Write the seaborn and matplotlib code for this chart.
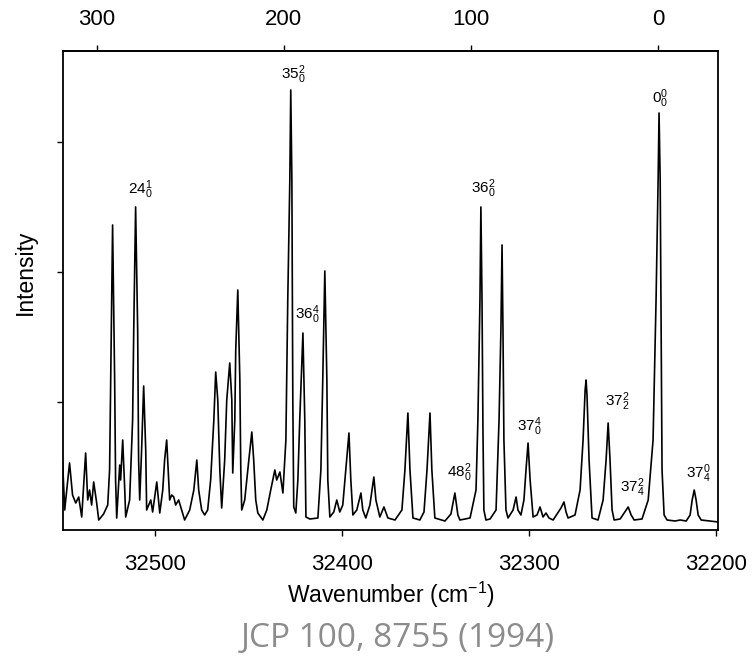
import matplotlib
matplotlib.use('Agg')
import matplotlib.pyplot as plt
import pandas as pd
import seaborn as sns

# band origin (0-0 band) used for the relative top scale
ORIGIN = 32231

# spectrum trace: wavenumber (cm-1) vs intensity (arb.)
WAVENUMBER = [
    32549.2, 32548.1, 32545.5, 32543.9, 32542.2, 32540.6, 32539.0, 32536.9, 32535.8, 32534.8,
    32533.7, 32532.6, 32531.0, 32529.9, 32527.3, 32525.1, 32524.1, 32523.5, 32522.5, 32521.4,
    32520.9, 32520.3, 32518.7, 32518.2, 32517.1, 32516.0, 32515.5, 32513.4, 32511.8, 32511.2,
    32510.2, 32509.1, 32508.6, 32508.0, 32507.0, 32505.9, 32504.8, 32504.3, 32502.1, 32501.1,
    32498.9, 32497.3, 32495.7, 32494.7, 32493.6, 32492.5, 32492.0, 32490.9, 32489.8, 32488.8,
    32487.2, 32485.6, 32484.0, 32481.3, 32479.1, 32477.5, 32476.5, 32474.9, 32473.3, 32471.7,
    32470.1, 32468.4, 32467.4, 32466.3, 32465.2, 32464.2, 32462.6, 32461.5, 32459.9, 32458.8,
    32458.3, 32457.2, 32456.7, 32455.6, 32454.5, 32454.0, 32453.5, 32451.9, 32449.7, 32448.1,
    32447.1, 32446.0, 32444.9, 32442.2, 32440.1, 32438.0, 32435.8, 32434.8, 32433.1, 32431.5,
    32429.9, 32428.9, 32427.8, 32427.3, 32426.7, 32426.2, 32425.7, 32424.6, 32423.5, 32422.5,
    32420.8, 32419.8, 32419.2, 32417.1, 32412.8, 32411.2, 32410.2, 32409.1, 32408.0, 32407.5,
    32406.4, 32404.3, 32402.7, 32401.1, 32399.5, 32397.9, 32396.2, 32395.2, 32394.1, 32392.0,
    32389.8, 32388.8, 32387.2, 32385.0, 32383.9, 32382.9, 32381.8, 32379.7, 32377.5, 32375.4,
    32371.6, 32367.9, 32366.3, 32364.7, 32363.6, 32362.0, 32358.3, 32356.1, 32354.5, 32352.9,
    32351.9, 32350.3, 32344.9, 32341.7, 32339.6, 32338.0, 32336.9, 32331.5, 32328.3, 32327.3,
    32326.2, 32325.7, 32325.1, 32324.6, 32324.1, 32323.0, 32320.8, 32317.6, 32316.0, 32315.0,
    32314.4, 32313.9, 32313.4, 32312.3, 32311.2, 32308.5, 32306.9, 32305.9, 32304.3, 32302.7,
    32301.6, 32300.5, 32299.4, 32297.8, 32295.7, 32294.1, 32292.5, 32290.9, 32289.3, 32287.1,
    32285.0, 32282.9, 32281.3, 32280.2, 32279.1, 32275.4, 32272.7, 32271.1, 32270.0, 32269.5,
    32269.0, 32267.9, 32266.3, 32263.1, 32260.4, 32258.8, 32257.7, 32256.7, 32255.6, 32254.5,
    32251.3, 32248.1, 32247.0, 32245.4, 32243.8, 32239.6, 32236.3, 32233.7, 32232.1, 32231.0,
    32230.5, 32229.9, 32229.4, 32228.9, 32227.8, 32226.2, 32221.9, 32219.2, 32216.0, 32213.9,
    32212.8, 32211.7, 32210.7, 32209.6, 32208.0, 32203.2, 32198.9,
]
INTENSITY = [
    68, 20, 67, 35, 27, 33, 13, 77, 30, 40,
    25, 48, 27, 10, 16, 25, 60, 150, 305, 150,
    50, 12, 65, 50, 90, 40, 13, 30, 110, 200,
    323, 200, 70, 30, 80, 144, 80, 20, 30, 18,
    48, 17, 40, 70, 90, 50, 30, 35, 33, 25,
    30, 20, 10, 20, 40, 70, 40, 20, 15, 20,
    50, 110, 158, 130, 60, 22, 70, 130, 167, 130,
    57, 110, 180, 240, 150, 60, 20, 30, 70, 98,
    70, 30, 17, 10, 20, 40, 60, 50, 58, 37,
    90, 230, 350, 440, 350, 130, 23, 17, 50, 110,
    197, 110, 13, 11, 12, 60, 150, 259, 150, 50,
    13, 18, 30, 18, 25, 60, 97, 50, 15, 20,
    37, 20, 12, 25, 40, 53, 30, 13, 23, 12,
    10, 20, 60, 117, 60, 12, 10, 18, 60, 117,
    60, 12, 9, 16, 37, 15, 10, 12, 40, 110,
    230, 323, 230, 100, 20, 10, 11, 20, 110, 200,
    285, 200, 90, 20, 12, 20, 33, 20, 15, 30,
    60, 87, 50, 13, 15, 23, 13, 17, 12, 10,
    16, 22, 28, 18, 12, 15, 40, 90, 140, 150,
    135, 70, 12, 10, 30, 70, 107, 70, 20, 10,
    11, 20, 23, 15, 10, 11, 30, 90, 230, 350,
    417, 350, 200, 60, 15, 10, 9, 10, 9, 15,
    30, 40, 30, 15, 10, 9, 8,
]

# band assignments
LABELS = [r'$24^{1}_{0}$', r'$35^{2}_{0}$', r'$36^{4}_{0}$', r'$36^{2}_{0}$', r'$48^{2}_{0}$',
          r'$37^{4}_{0}$', r'$37^{2}_{2}$', r'$37^{2}_{4}$', r'$37^{0}_{4}$', r'$0^{0}_{0}$']
LABEL_X = [32507.5, 32426.2, 32418.2, 32324.6, 32337.4, 32300.0, 32252.9, 32244.9, 32209.6, 32229.9]
LABEL_Y = [340, 455, 215, 341, 57, 103, 128, 42, 56, 431]

sns.set_style('ticks')
plt.rcParams['font.family'] = ['Liberation Sans', 'DejaVu Sans']
plt.rcParams['mathtext.fontset'] = 'custom'
plt.rcParams['mathtext.rm'] = 'Liberation Sans'
plt.rcParams['mathtext.it'] = 'Liberation Sans:italic'
plt.rcParams['mathtext.bf'] = 'Liberation Sans:bold'
plt.rcParams['text.color'] = 'black'
plt.rcParams['axes.labelcolor'] = 'black'
plt.rcParams['xtick.color'] = 'black'
plt.rcParams['ytick.color'] = 'black'

df = pd.DataFrame({'wavenumber': WAVENUMBER, 'intensity': INTENSITY})

fig = plt.figure(figsize=(7.54, 6.59), dpi=100)
ax = fig.add_axes([63 / 754, 129 / 659, 655 / 754, 479 / 659])
sns.lineplot(data=df, x='wavenumber', y='intensity', ax=ax, color='black',
             lw=1.2, sort=False, estimator=None)

ax.set_xlim(32549, 32199)
ax.set_ylim(0, 479)
ax.set_xticks([32500, 32400, 32300, 32200])
ax.set_yticks([128, 258, 388])
ax.set_yticklabels([])
ax.tick_params(direction='out', length=4, width=1, colors='black', labelsize=16)
ax.tick_params(axis='x', pad=13)
for sp in ax.spines.values():
    sp.set_linewidth(1.3)
    sp.set_color('black')

top = ax.secondary_xaxis('top', functions=(lambda w: w - ORIGIN, lambda r: r + ORIGIN))
top.set_xticks([300, 200, 100, 0])
top.tick_params(direction='out', length=4, width=1, labelsize=16, pad=11, colors='black')
top.spines['top'].set_linewidth(1.3)

ax.set_xlabel('Wavenumber (cm$^{-1}$)', fontsize=16.5, color='black')
ax.set_ylabel('Intensity', fontsize=16.5, color='black')
ax.xaxis.set_label_coords(0.5, -0.104)
ax.yaxis.set_label_coords(-0.040, 0.539)

for lab, lx, ly in zip(LABELS, LABEL_X, LABEL_Y):
    ax.text(lx, ly, lab, ha='center', va='center', fontsize=11, color='black')

fig.text(398 / 754, 1 - 647 / 659, 'JCP 100, 8755 (1994)', ha='center', va='baseline',
         fontsize=24, color='#8c8c8c', family=['Open Sans', 'DejaVu Sans'])

fig.savefig('out.png', dpi=100)
